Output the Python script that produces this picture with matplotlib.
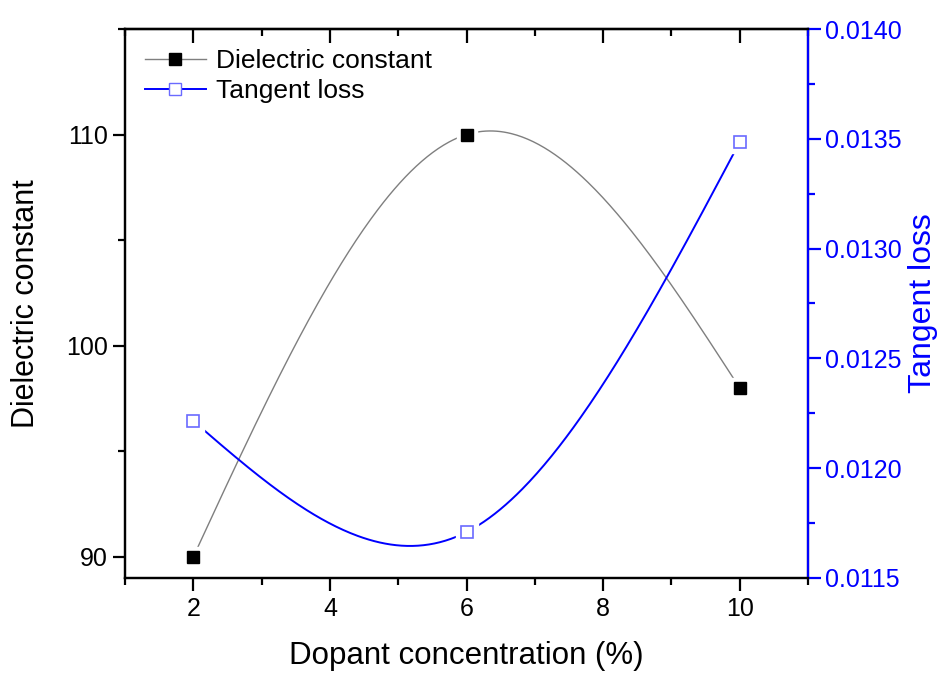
import numpy as np
import matplotlib
matplotlib.use("Agg")
import matplotlib.pyplot as plt
from matplotlib.lines import Line2D
from matplotlib.ticker import MultipleLocator

# data
dopant = [2, 6, 10]
dielectric = [90, 110, 98]
tangent_loss = [0.012215, 0.011709, 0.013485]

GRAY = "#7f7f7f"
BLUE = "#0000ff"
LIGHT_BLUE = "#6a6aff"

plt.rcParams["font.family"] = ["Liberation Sans", "DejaVu Sans"]


def natural_spline(x, y, n=300):
    # smooth connecting line through the points (natural cubic spline)
    x = np.asarray(x, float)
    y = np.asarray(y, float)
    k = len(x)
    h = np.diff(x)
    A = np.zeros((k, k))
    r = np.zeros(k)
    A[0, 0] = A[-1, -1] = 1
    for i in range(1, k - 1):
        A[i, i - 1] = h[i - 1]
        A[i, i] = 2 * (h[i - 1] + h[i])
        A[i, i + 1] = h[i]
        r[i] = 6 * ((y[i + 1] - y[i]) / h[i] - (y[i] - y[i - 1]) / h[i - 1])
    M = np.linalg.solve(A, r)
    xs = np.linspace(x[0], x[-1], n)
    idx = np.clip(np.searchsorted(x, xs) - 1, 0, k - 2)
    x0, x1 = x[idx], x[idx + 1]
    hh = x1 - x0
    ys = (M[idx] * (x1 - xs) ** 3 / (6 * hh) + M[idx + 1] * (xs - x0) ** 3 / (6 * hh)
          + (y[idx] / hh - M[idx] * hh / 6) * (x1 - xs)
          + (y[idx + 1] / hh - M[idx + 1] * hh / 6) * (xs - x0))
    return xs, ys


fig = plt.figure(figsize=(9.38, 6.73), dpi=100)
ax = fig.add_axes([0.1333, 0.1412, 0.7281, 0.8157])
ax2 = ax.twinx()

xs, ys = natural_spline(dopant, dielectric)
ax.plot(xs, ys, color=GRAY, lw=1.0, zorder=2)
ax.plot(dopant, dielectric, ls="none", marker="s", ms=15, mfc="white", mec="white", zorder=3)
ax.plot(dopant, dielectric, ls="none", marker="s", ms=9, mfc="black", mec="black", zorder=4)

xs2, ys2 = natural_spline(dopant, tangent_loss)
ax2.plot(xs2, ys2, color=BLUE, lw=1.4, zorder=2)
ax2.plot(dopant, tangent_loss, ls="none", marker="s", ms=16, mfc="white", mec="white", zorder=3)
ax2.plot(dopant, tangent_loss, ls="none", marker="s", ms=8, mfc="white", mec=LIGHT_BLUE,
         mew=1.2, zorder=4)

ax.set_xlim(1, 11)
ax.set_ylim(89, 115)
ax2.set_ylim(0.0115, 0.0140)

ax.xaxis.set_major_locator(MultipleLocator(2))
ax.xaxis.set_minor_locator(MultipleLocator(1))
ax.yaxis.set_major_locator(MultipleLocator(10))
ax.yaxis.set_minor_locator(MultipleLocator(5))
ax2.yaxis.set_major_locator(MultipleLocator(0.0005))
ax2.yaxis.set_minor_locator(MultipleLocator(0.00025))
ax2.yaxis.set_major_formatter(plt.FormatStrFormatter("%.4f"))

for a in (ax, ax2):
    for s in a.spines.values():
        s.set_linewidth(1.6)
ax2.spines["right"].set_color(BLUE)

ax.tick_params(axis="x", which="both", direction="out", top=False, labelsize=18, width=1.6, pad=5)
ax.tick_params(axis="x", which="major", length=9)
ax.tick_params(axis="x", which="minor", length=5)
ax.tick_params(axis="y", which="both", direction="out", labelsize=18, width=1.6)
ax.tick_params(axis="y", which="major", length=9)
ax.tick_params(axis="y", which="minor", length=5)
ax2.tick_params(axis="y", which="both", direction="out", colors=BLUE, labelsize=18, width=1.6)
ax2.tick_params(axis="y", which="major", length=9)
ax2.tick_params(axis="y", which="minor", length=5)

# top ticks point inward
top = ax.secondary_xaxis("top")
top.xaxis.set_major_locator(MultipleLocator(2))
top.xaxis.set_minor_locator(MultipleLocator(1))
top.tick_params(which="both", direction="in", labeltop=False, width=1.6)
top.tick_params(which="major", length=10)
top.tick_params(which="minor", length=5)
top.spines["top"].set_linewidth(1.6)

ax.set_xlabel("Dopant concentration (%)", fontsize=22.5, labelpad=14)
ax.set_ylabel("Dielectric constant", fontsize=22, labelpad=18)
ax2.set_ylabel("Tangent loss", fontsize=23, color=BLUE, labelpad=4)

handles = [
    Line2D([], [], color=GRAY, lw=1.0, marker="s", ms=9, mfc="black", mec="black"),
    Line2D([], [], color=BLUE, lw=1.4, marker="s", ms=8, mfc="white", mec=LIGHT_BLUE),
]
ax.legend(handles, ["Dielectric constant", "Tangent loss"], loc="upper left",
          frameon=False, fontsize=19, handlelength=2.3, borderaxespad=0.35,
          labelspacing=0.25, handletextpad=0.4)

fig.savefig("out.png", dpi=100)
